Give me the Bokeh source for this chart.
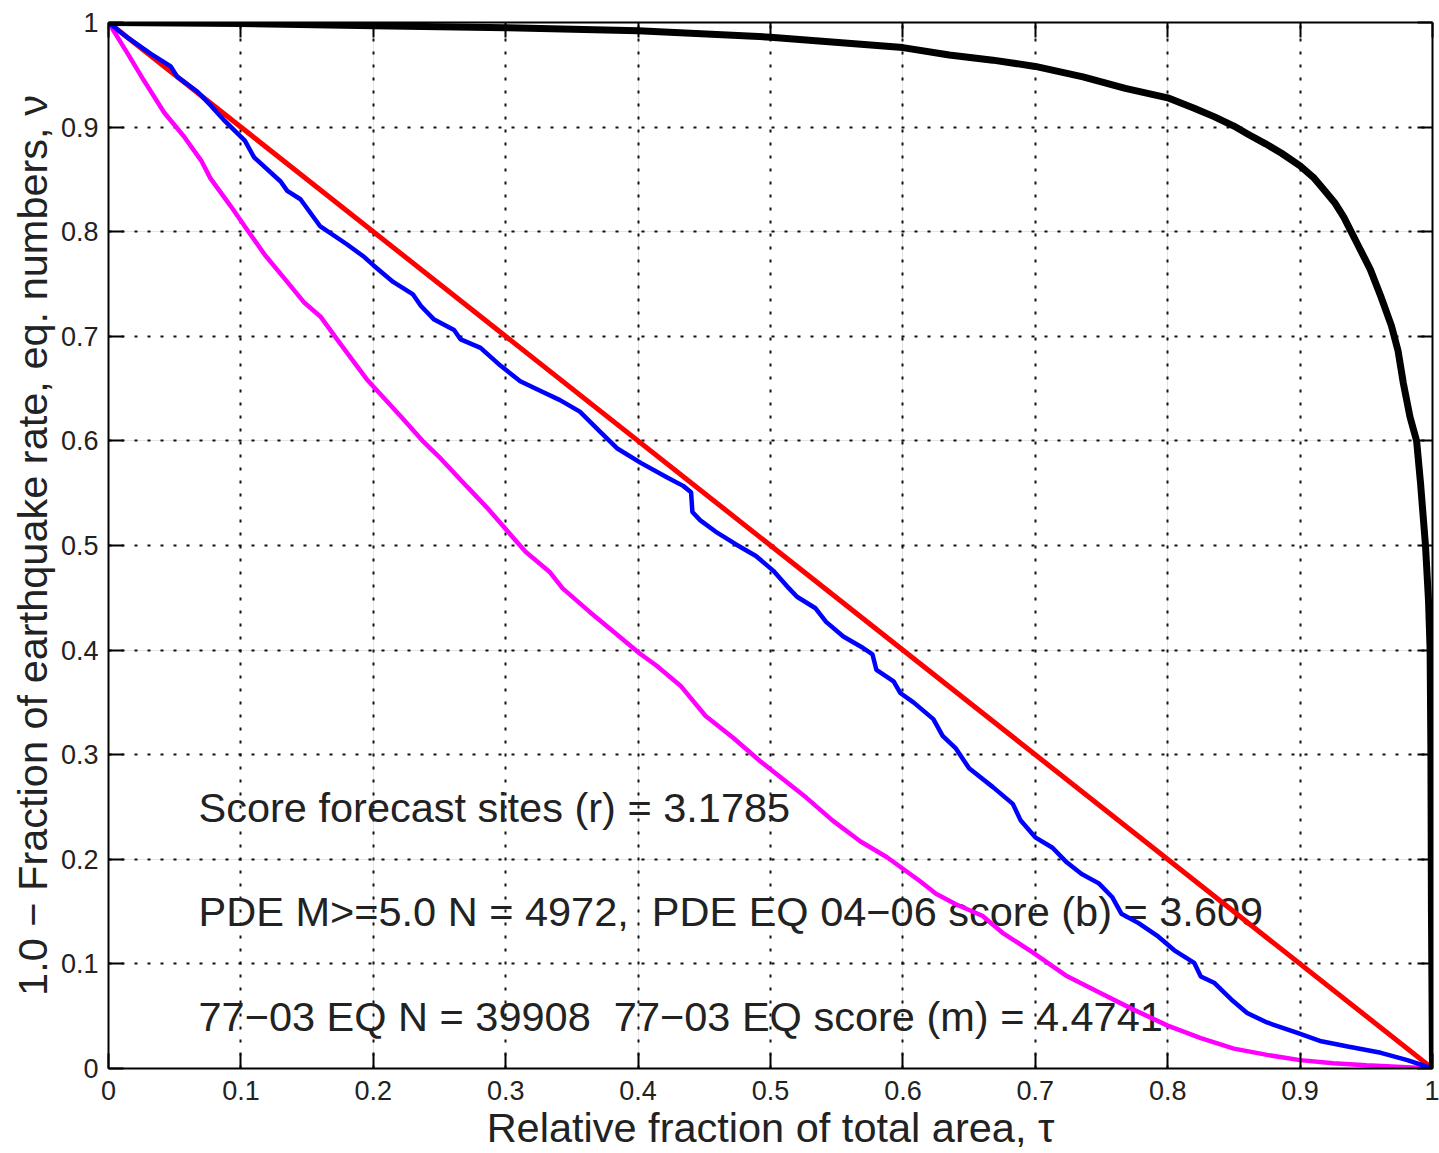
from bokeh.plotting import figure
from bokeh.models import LinearAxis, FixedTicker, Range1d, Grid
from bokeh.core.properties import value
from bokeh.embed import file_html
from bokeh.resources import INLINE

# ---- data -------------------------------------------------------------
tick_values = [0, 0.1, 0.2, 0.3, 0.4, 0.5, 0.6, 0.7, 0.8, 0.9, 1.0]
tick_labels = ["0", "0.1", "0.2", "0.3", "0.4", "0.5", "0.6", "0.7", "0.8", "0.9", "1"]

# random (reference) forecast: diagonal
red_tau = [0.0, 1.0]
red_nu = [1.0, 0.0]

# PDE M>=5.0 earthquakes 2004-06
blue_tau = [0.0, 0.015, 0.032, 0.047, 0.052, 0.067, 0.077, 0.087, 0.103, 0.110,
            0.130, 0.135, 0.145, 0.160, 0.180, 0.193, 0.200, 0.215, 0.230, 0.236,
            0.246, 0.261, 0.266, 0.281, 0.296, 0.311, 0.326, 0.341, 0.356, 0.372,
            0.384, 0.402, 0.422, 0.434, 0.440, 0.441, 0.447, 0.460, 0.474, 0.489,
            0.502, 0.514, 0.520, 0.534, 0.542, 0.555, 0.570, 0.577, 0.580, 0.593,
            0.598, 0.608, 0.623, 0.630, 0.640, 0.650, 0.668, 0.683, 0.689, 0.700,
            0.713, 0.723, 0.735, 0.748, 0.758, 0.765, 0.778, 0.793, 0.805, 0.820,
            0.825, 0.835, 0.848, 0.860, 0.875, 0.898, 0.916, 0.936, 0.961, 0.981,
            1.0]
blue_nu = [1.0, 0.985, 0.970, 0.958, 0.948, 0.934, 0.921, 0.907, 0.887, 0.871,
           0.848, 0.839, 0.831, 0.805, 0.788, 0.776, 0.768, 0.752, 0.740, 0.729,
           0.716, 0.706, 0.697, 0.689, 0.672, 0.657, 0.648, 0.639, 0.628, 0.608,
           0.593, 0.579, 0.565, 0.557, 0.551, 0.532, 0.524, 0.512, 0.501, 0.490,
           0.476, 0.459, 0.451, 0.440, 0.427, 0.413, 0.402, 0.396, 0.381, 0.370,
           0.359, 0.350, 0.334, 0.318, 0.306, 0.287, 0.269, 0.253, 0.237, 0.221,
           0.211, 0.198, 0.186, 0.177, 0.164, 0.148, 0.139, 0.126, 0.113, 0.101,
           0.088, 0.082, 0.066, 0.053, 0.044, 0.034, 0.026, 0.021, 0.015, 0.008,
           0.0]

# 77-03 earthquakes
magenta_tau = [0.0, 0.0146, 0.027, 0.042, 0.057, 0.070, 0.077, 0.092, 0.103, 0.118,
               0.135, 0.148, 0.160, 0.175, 0.195, 0.221, 0.238, 0.251, 0.271, 0.286,
               0.306, 0.315, 0.333, 0.343, 0.363, 0.384, 0.401, 0.414, 0.432, 0.451,
               0.472, 0.492, 0.505, 0.527, 0.547, 0.568, 0.588, 0.613, 0.625, 0.640,
               0.660, 0.675, 0.698, 0.723, 0.748, 0.773, 0.800, 0.825, 0.850, 0.875,
               0.900, 0.925, 0.950, 1.0]
magenta_nu = [1.0, 0.970, 0.944, 0.914, 0.891, 0.868, 0.851, 0.825, 0.805, 0.778,
              0.752, 0.732, 0.719, 0.693, 0.659, 0.623, 0.599, 0.583, 0.556, 0.536,
              0.507, 0.494, 0.475, 0.459, 0.437, 0.415, 0.397, 0.385, 0.366, 0.337,
              0.316, 0.294, 0.281, 0.259, 0.237, 0.217, 0.202, 0.179, 0.167, 0.157,
              0.146, 0.130, 0.111, 0.089, 0.073, 0.057, 0.041, 0.029, 0.019, 0.013,
              0.008, 0.005, 0.003, 0.0]

# forecast sites curve
black_tau = [0.0, 0.1, 0.2, 0.3, 0.4, 0.5, 0.6, 0.635, 0.668, 0.700, 0.736, 0.768,
             0.800, 0.820, 0.835, 0.850, 0.861, 0.874, 0.886, 0.900, 0.910, 0.918,
             0.926, 0.933, 0.943, 0.953, 0.961, 0.969, 0.974, 0.978, 0.983, 0.988,
             0.991, 0.9947, 0.997, 0.9982, 0.9988, 0.9992, 1.0]
black_nu = [1.0, 0.999, 0.997, 0.995, 0.992, 0.986, 0.976, 0.969, 0.964, 0.958,
            0.948, 0.937, 0.928, 0.918, 0.910, 0.901, 0.893, 0.884, 0.875, 0.863,
            0.852, 0.840, 0.828, 0.814, 0.789, 0.764, 0.738, 0.710, 0.686, 0.655,
            0.623, 0.600, 0.559, 0.500, 0.447, 0.400, 0.300, 0.150, 0.0]

notes = [
    "Score forecast sites (r) = 3.1785",
    "PDE M>=5.0 N = 4972,\u00a0 PDE EQ 04\u221206 score (b) = 3.609",
    "77\u221203 EQ N = 39908\u00a0 77\u221203 EQ score (m) = 4.4741",
]

# ---- figure ------------------------------------------------------------
FONT = "Liberation Sans"

p = figure(width=1439, height=1153, output_backend="svg", toolbar_location=None,
           x_range=Range1d(0, 1), y_range=Range1d(0, 1),
           x_axis_location=None, y_axis_location=None,
           min_border_left=108, min_border_right=7,
           min_border_top=22, min_border_bottom=85,
           background_fill_color="white", border_fill_color="white")
p.outline_line_color = None

ticker = FixedTicker(ticks=tick_values)
overrides = {v: s for v, s in zip(tick_values, tick_labels)}


def make_axis(show_labels):
    ax = LinearAxis(ticker=ticker)
    ax.major_tick_in = 15
    ax.major_tick_out = 0
    ax.minor_tick_in = 0
    ax.minor_tick_out = 0
    ax.major_tick_line_width = 2
    ax.major_tick_line_color = "black"
    ax.axis_line_width = 2
    ax.axis_line_color = "black"
    if show_labels:
        ax.major_label_overrides = overrides
        ax.major_label_text_font = FONT
        ax.major_label_text_color = "#222222"
        ax.major_label_text_font_size = "27px"
        ax.axis_label_text_font = FONT
        ax.axis_label_text_font_size = "41.5px"
        ax.axis_label_text_font_style = "normal"
        ax.axis_label_text_color = "#222222"
    else:
        # box side: ticks only, no labels
        ax.major_label_text_color = None
        ax.major_label_text_font_size = "1px"
        ax.major_label_standoff = 0
    return ax


xb = make_axis(True)
xb.axis_label = "Relative fraction of total area, \u03c4"
xb.major_label_standoff = 12
xb.axis_label_standoff = 1
yl = make_axis(True)
yl.axis_label = "1.0 \u2212 Fraction of earthquake rate, eq. numbers, \u03bd"
yl.major_label_standoff = 10
yl.axis_label_standoff = 2
xt = make_axis(False)
yr = make_axis(False)
p.add_layout(xb, "below")
p.add_layout(yl, "left")
p.add_layout(xt, "above")
p.add_layout(yr, "right")

for dim in (0, 1):
    g = Grid(dimension=dim, ticker=ticker)
    g.grid_line_color = "#111111"
    g.grid_line_width = 2
    g.grid_line_dash = "3 10"
    p.add_layout(g)

# annotation text sits beneath the curves
p.text(x=[0.068, 0.068, 0.068], y=[0.25, 0.15, 0.05], text=notes,
       text_font=value(FONT), text_font_size="41.5px", text_color="#222222",
       text_baseline="middle", text_align="left")

p.line(red_tau, red_nu, line_color="#ff0000", line_width=5)
p.line(magenta_tau, magenta_nu, line_color="#ff00ff", line_width=4.5)
p.line(blue_tau, blue_nu, line_color="#0000ff", line_width=4.5)
p.line(black_tau, black_nu, line_color="black", line_width=7, line_join="round")

open("out.html", "w").write(file_html(p, INLINE))
